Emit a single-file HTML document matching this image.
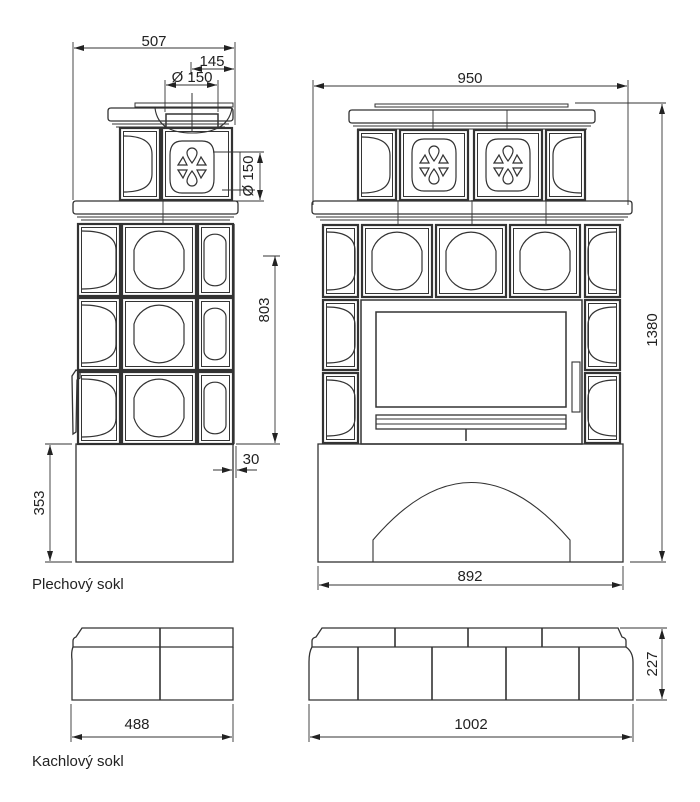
<!DOCTYPE html>
<html><head><meta charset="utf-8"><style>
html,body{margin:0;padding:0;background:#fff;}
svg{display:block;}
text{font-family:"Liberation Sans",sans-serif;fill:#222;}
</style></head><body>
<svg id="s" width="700" height="802" viewBox="0 0 700 802" xmlns="http://www.w3.org/2000/svg">
<defs>
<marker id="a" viewBox="0 0 10 6" refX="10" refY="3" markerWidth="10" markerHeight="6" orient="auto-start-reverse" markerUnits="userSpaceOnUse"><path d="M0,0 L10,3 L0,6 Z" fill="#222"/></marker>
</defs>
<g id="g" fill="none" stroke="#333" stroke-width="1.2"></g>
<g font-size="15">
<text x="154" y="46" text-anchor="middle">507</text>
<text x="212" y="66" text-anchor="middle">145</text>
<text x="192" y="82" text-anchor="middle">Ø 150</text>
<text transform="translate(253,176) rotate(-90)" text-anchor="middle">Ø 150</text>
<text transform="translate(269,310) rotate(-90)" text-anchor="middle">803</text>
<text x="251" y="464" text-anchor="middle">30</text>
<text transform="translate(44,503) rotate(-90)" text-anchor="middle">353</text>
<text x="470" y="83" text-anchor="middle">950</text>
<text transform="translate(657,330) rotate(-90)" text-anchor="middle">1380</text>
<text x="470" y="581" text-anchor="middle">892</text>
<text x="32" y="589">Plechový sokl</text>
<text x="137" y="729" text-anchor="middle">488</text>
<text x="471" y="729" text-anchor="middle">1002</text>
<text transform="translate(657,664) rotate(-90)" text-anchor="middle">227</text>
<text x="32" y="766">Kachlový sokl</text>
</g>
</svg>
<script>
var g=document.getElementById('g'),h='';
function P(d,w,f){h+='<path d="'+d+'"'+(w?' stroke-width="'+w+'"':'')+(f?' fill="'+f+'"':'')+'/>';}
function L(x1,y1,x2,y2,w){P('M'+x1+','+y1+'L'+x2+','+y2,w||0.9);}
function D(x1,y1,x2,y2){h+='<path d="M'+x1+','+y1+'L'+x2+','+y2+'" stroke-width="0.9" marker-start="url(#a)" marker-end="url(#a)"/>';}
function R(x,y,w,hh,sw){h+='<rect x="'+x+'" y="'+y+'" width="'+w+'" height="'+hh+'"'+(sw?' stroke-width="'+sw+'"':'')+'/>';}
function tile(x,y,w,hh){R(x,y,w,hh,2.2);R(x+3.5,y+3.5,w-7,hh-7,1);}
function round(cx,cy){var a=25,b=10,R0=26;P('M'+(cx-a)+','+(cy-b)+'A'+R0+','+R0+' 0 0 1 '+(cx+a)+','+(cy-b)+'L'+(cx+a)+','+(cy+b)+'A'+R0+','+R0+' 0 0 1 '+(cx-a)+','+(cy+b)+'Z');}
function half(x,cy,d,hh){P('M'+x+','+(cy-hh)+'Q'+(x+d)+','+(cy-hh)+' '+(x+d)+','+(cy-hh*0.35)+'L'+(x+d)+','+(cy+hh*0.35)+'Q'+(x+d)+','+(cy+hh)+' '+x+','+(cy+hh));}
function stad(x,y,w,hh){var r=w/2;P('M'+x+','+(y+r)+'A'+r+','+r*0.8+' 0 0 1 '+(x+w)+','+(y+r)+'L'+(x+w)+','+(y+hh-r)+'A'+r+','+r*0.8+' 0 0 1 '+x+','+(y+hh-r)+'Z');}
function orn(cx,cy){
 P('M'+(cx-10)+','+(cy-26)+'L'+(cx+10)+','+(cy-26)+'Q'+(cx+22)+','+(cy-26)+' '+(cx+22)+','+(cy-12)+'L'+(cx+22)+','+(cy+12)+'Q'+(cx+22)+','+(cy+26)+' '+(cx+10)+','+(cy+26)+'L'+(cx-10)+','+(cy+26)+'Q'+(cx-22)+','+(cy+26)+' '+(cx-22)+','+(cy+12)+'L'+(cx-22)+','+(cy-12)+'Q'+(cx-22)+','+(cy-26)+' '+(cx-10)+','+(cy-26)+'Z');
 P('M'+cx+','+(cy-4)+'C'+(cx-3)+','+(cy-8)+' '+(cx-5)+','+(cy-11)+' '+(cx-5)+','+(cy-14)+'A5,5 0 0 1 '+(cx+5)+','+(cy-14)+'C'+(cx+5)+','+(cy-11)+' '+(cx+3)+','+(cy-8)+' '+cx+','+(cy-4)+'Z');
 P('M'+cx+','+(cy+4)+'C'+(cx-3)+','+(cy+8)+' '+(cx-5)+','+(cy+11)+' '+(cx-5)+','+(cy+14)+'A5,5 0 0 0 '+(cx+5)+','+(cy+14)+'C'+(cx+5)+','+(cy+11)+' '+(cx+3)+','+(cy+8)+' '+cx+','+(cy+4)+'Z');
 P('M'+(cx-14)+','+(cy-2)+'l5,-8l4,8z');P('M'+(cx+14)+','+(cy-2)+'l-5,-8l-4,8z');
 P('M'+(cx-14)+','+(cy+3)+'l5,8l4,-8z');P('M'+(cx+14)+','+(cy+3)+'l-5,8l-4,-8z');
}
function cap(x1,x2,y){
 P('M'+(x1+3)+','+y+'L'+(x2-3)+','+y+'Q'+x2+','+y+' '+x2+','+(y+3)+'L'+x2+','+(y+10)+'Q'+x2+','+(y+13)+' '+(x2-3)+','+(y+13)+'L'+(x1+3)+','+(y+13)+'Q'+x1+','+(y+13)+' '+x1+','+(y+10)+'L'+x1+','+(y+3)+'Q'+x1+','+y+' '+(x1+3)+','+y+'Z',1.3);
 L(x1+4,y+16,x2-4,y+16,1.1);L(x1+8,y+19,x2-8,y+19,1.1);
}
/* LEFT VIEW */
L(73,42,73,200);L(235,42,235,125);L(191,62,191,75);
D(74,48,234,48);D(192,69,234,69);
L(165,80,165,112);L(218,80,218,112);D(166,85,217,85);
P('M135,103L233,103L233,107L135,107Z',1);
cap(108,233,108);
P('M155,108Q158,133 192,133Q228,133 232,108',1.1);R(166,114,52,14,1.5);L(192,93,192,132,1);
tile(120,128,40,72);half(124,164,28,28);
tile(162,128,70,72);orn(192,167);
L(234,152,240,152);L(240,152,240,196);
L(213,152,264,152);L(236,201,264,201);D(260,153,260,200);L(222,190,255,190);
cap(73,238,201);L(163,200,163,224);
tile(78,224,42,72);half(82,260,34,29);
tile(122,224,74,72);round(159,260);
tile(198,224,35,72);stad(204,232,22,56);
tile(78,298,42,72);half(82,334,34,29);
tile(122,298,74,72);round(159,334);
tile(198,298,35,72);stad(204,306,22,56);
tile(78,372,42,72);half(82,408,34,29);
tile(122,372,74,72);round(159,408);
tile(198,372,35,72);stad(204,380,22,56);
L(234,224,234,444,1.3);
P('M72,376L76,370L80,372L80,378L77,380L76,432L73,434Z',1.3);
R(76,444,157,118,1.3);
L(236,444,280,444);D(275,256,275,443);L(263,256,280,256);
L(233,446,233,478);L(236,446,236,478);
h+='<path d="M213,470L232,470" stroke-width="0.9" marker-end="url(#a)"/><path d="M257,470L237,470" stroke-width="0.9" marker-end="url(#a)"/>';
L(45,444,72,444);L(45,562,72,562);D(50,445,50,561);
/* RIGHT VIEW */
L(313,80,313,205);L(628,80,628,205);D(314,86,627,86);
P('M375,104L568,104L568,107L375,107Z',1);
cap(349,595,110);L(433,110,433,130);L(507,110,507,130);
tile(358,130,38,70);half(362,165,28,28);
tile(400,130,68,70);orn(434,165);
tile(474,130,68,70);orn(508,165);
tile(546,130,39,70);half(581,165,-28,28);
cap(312,632,201);L(398,200,398,224);L(472,200,472,224);L(546,200,546,224);
tile(323,225,35,72);half(327,261,28,29);
tile(362,225,70,72);round(397,261);
tile(436,225,70,72);round(471,261);
tile(510,225,70,72);round(545,261);
tile(585,225,35,72);half(616,261,-28,29);
tile(323,300,35,70);half(327,335,28,28);
tile(323,373,35,70);half(327,408,28,28);
tile(585,300,35,70);half(616,335,-28,28);
tile(585,373,35,70);half(616,408,-28,28);
R(361,300,221,144,1.5);R(376,312,190,95,1.5);
R(376,415,190,14,1.3);L(376,419,566,419,1);L(376,424,566,424,1);
L(466,429,466,441,1.5);R(572,362,8,50,1.1);
R(318,444,305,118,1.3);
P('M373,562L373,540Q471,425 570,540L570,562',1.1);
L(318,566,318,590);L(623,566,623,590);D(319,585,622,585);
L(575,103,666,103);L(630,562,666,562);D(662,104,662,561);
/* KACHLOVY SOKL */
P('M82,628L233,628L233,647L73,647L73,641Q73,638 76,637Z',1.3);L(160,628,160,700,1.6);
P('M73,647Q71,652 72,660L72,700L233,700L233,647',1.3);
L(71,704,71,742);L(233,704,233,742);D(72,737,232,737);
P('M322,628L618,628L622,637Q626,638 626,641L626,647L312,647L312,641Q312,638 316,637Z',1.3);
P('M312,647Q309,652 309,662L309,700L633,700L633,662Q633,652 626,647',1.3);
L(395,628,395,647,1.6);L(468,628,468,647,1.6);L(542,628,542,647,1.6);
L(358,647,358,700,1.6);L(432,647,432,700,1.6);L(506,647,506,700,1.6);L(579,647,579,700,1.6);
L(309,704,309,742);L(633,704,633,742);D(310,737,632,737);
L(620,628,667,628);L(636,700,667,700);D(662,629,662,699);
g.innerHTML=h;
</script>
</body></html>
